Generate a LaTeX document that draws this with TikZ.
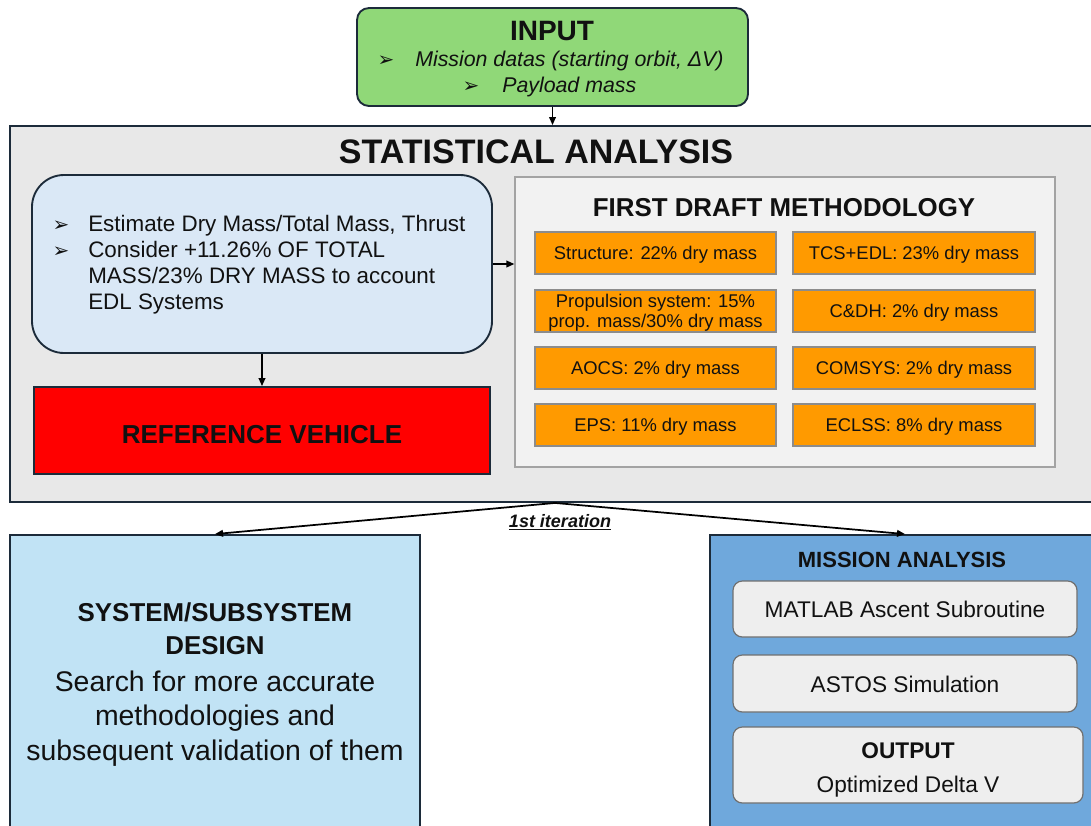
\documentclass[tikz,border=0pt]{standalone}
\usepackage{fontspec}
\setmainfont{Liberation Sans}
\newfontfamily\dvfont{DejaVu Sans}
\usetikzlibrary{arrows.meta,fit}
\definecolor{edgeC}{HTML}{1C2B3A}
\definecolor{greenC}{HTML}{90D878}
\definecolor{statC}{HTML}{E8E8E8}
\definecolor{lblueC}{HTML}{DAE8F6}
\definecolor{fdmC}{HTML}{F2F2F2}
\definecolor{fdmE}{HTML}{A3A3A3}
\definecolor{orangeC}{HTML}{FF9A00}
\definecolor{orangeE}{HTML}{8C8C8C}
\definecolor{misC}{HTML}{6FA8DC}
\definecolor{innerC}{HTML}{EEEEEE}
\definecolor{innerE}{HTML}{707070}
\definecolor{sysC}{HTML}{C1E3F5}
\definecolor{txtC}{HTML}{111111}
\newcommand{\fsz}[1]{\fontsize{#1}{#1}\selectfont}
\newcommand{\bul}{{\dvfont\bfseries ➢}}
\begin{document}
\begin{tikzpicture}[x=0.75pt,y=-0.75pt,
  box/.style={inner sep=0pt, draw=edgeC, line width=1.4pt},
  orng/.style={inner sep=0pt, draw=orangeE, fill=orangeC, line width=0.9pt},
  ibox/.style={inner sep=0pt, draw=innerE, fill=innerC, line width=0.9pt, rounded corners=7pt},
  lbl/.style={inner sep=0pt, anchor=base, text=txtC},
  arr/.style={draw=black, line width=1.3pt, -{Triangle[length=6pt,width=5pt]}},
]
\clip (0,0) rectangle (1091,825);
\fill[white] (0,0) rectangle (1091,825);

% INPUT
\node[box, fill=greenC, rounded corners=9pt, fit={(357,8)(748,106)}] (input) {};
\node[lbl, font=\bfseries\fsz{21}] (inT) at (552,40) {INPUT};
\node[lbl, font=\fsz{15}] (inB1) at (386,66) {\bul};
\node[lbl, anchor=base west, font=\itshape\fsz{16}] (in1) at (415,66) {Mission datas (starting orbit, ΔV)};
\node[lbl, font=\fsz{15}] (inB2) at (471,92) {\bul};
\node[lbl, anchor=base west, font=\itshape\fsz{16}] (in2) at (502,92) {Payload mass};

% STATISTICAL ANALYSIS
\node[box, fill=statC, fit={(10,126)(1100,502)}] (stat) {};
\node[lbl, font=\bfseries\fsz{25.5}] (statT) at (536,163) {STATISTICAL ANALYSIS};

% estimate box
\node[box, fill=lblueC, rounded corners=24pt, fit={(32,175)(492,353)}] (est) {};
\node[lbl, font=\fsz{15}] (eB1) at (61,231) {\bul};
\node[lbl, font=\fsz{15}] (eB2) at (61,257) {\bul};
\node[lbl, anchor=base west, font=\fsz{16.8}] (e1) at (88,231) {Estimate Dry Mass/Total Mass, Thrust};
\node[lbl, anchor=base west, font=\fsz{16.8}] (e2) at (88,257) {Consider +11.26\% OF TOTAL};
\node[lbl, anchor=base west, font=\fsz{16.8}] (e3) at (88,283) {MASS/23\% DRY MASS to account};
\node[lbl, anchor=base west, font=\fsz{16.8}] (e4) at (88,309) {EDL Systems};

% reference vehicle
\node[box, fill=red, fit={(34,387)(490,474)}] (ref) {};
\node[lbl, font=\bfseries\fsz{19.5}] (refT) at (262,443) {REFERENCE VEHICLE};

% first draft methodology
\node[inner sep=0pt, draw=fdmE, fill=fdmC, line width=0.9pt, fit={(515,177)(1055,467)}] (fdm) {};
\node[lbl, font=\bfseries\fsz{19.4}] (fdmT) at (784,216) {FIRST DRAFT METHODOLOGY};

\node[orng, fit={(535,232)(776,274)}] (o1) {};
\node[orng, fit={(793,232)(1035,274)}] (o2) {};
\node[orng, fit={(535,290)(776,332)}] (o3) {};
\node[orng, fit={(793,290)(1035,332)}] (o4) {};
\node[orng, fit={(535,347)(776,389)}] (o5) {};
\node[orng, fit={(793,347)(1035,389)}] (o6) {};
\node[orng, fit={(535,404)(776,446)}] (o7) {};
\node[orng, fit={(793,404)(1035,446)}] (o8) {};
\node[lbl, font=\fsz{13.8}] (t1) at (655.5,259.5) {Structure: 22\% dry mass};
\node[lbl, font=\fsz{13.8}] (t2) at (914,259.5) {TCS+EDL: 23\% dry mass};
\node[lbl, font=\fsz{13.8}] (t3a) at (655.5,307) {Propulsion system: 15\%};
\node[lbl, font=\fsz{13.8}] (t3b) at (655.5,327) {prop. mass/30\% dry mass};
\node[lbl, font=\fsz{13.8}] (t4) at (914,317.5) {C\&DH: 2\% dry mass};
\node[lbl, font=\fsz{13.8}] (t5) at (655.5,374.5) {AOCS: 2\% dry mass};
\node[lbl, font=\fsz{13.8}] (t6) at (914,374.5) {COMSYS: 2\% dry mass};
\node[lbl, font=\fsz{13.8}] (t7) at (655.5,431.5) {EPS: 11\% dry mass};
\node[lbl, font=\fsz{13.8}] (t8) at (914,431.5) {ECLSS: 8\% dry mass};

% system / subsystem design
\node[box, fill=sysC, fit={(10,535)(420,830)}] (sys) {};
\node[lbl, font=\bfseries\fsz{19.4}] (s1) at (215,621) {SYSTEM/SUBSYSTEM};
\node[lbl, font=\bfseries\fsz{19.4}] (s2) at (215,654) {DESIGN};
\node[lbl, font=\fsz{21.3}] (s3) at (215,691) {Search for more accurate};
\node[lbl, font=\fsz{21.3}] (s4) at (215,725) {methodologies and};
\node[lbl, font=\fsz{21.3}] (s5) at (215,760) {subsequent validation of them};

% mission analysis
\node[box, fill=misC, fit={(710,535)(1100,830)}] (mis) {};
\node[lbl, font=\bfseries\fsz{16.5}] (misT) at (902,567) {MISSION ANALYSIS};
\node[ibox, fit={(733,581)(1077,637)}] (m1) {};
\node[ibox, fit={(733,655)(1077,712)}] (m2) {};
\node[ibox, fit={(733,727)(1083,803)}] (m3) {};
\node[lbl, font=\fsz{17}] (m1T) at (905,617) {MATLAB Ascent Subroutine};
\node[lbl, font=\fsz{17}] (m2T) at (905,692) {ASTOS Simulation};
\node[lbl, font=\bfseries\fsz{17}] (m3T) at (908,758) {OUTPUT};
\node[lbl, font=\fsz{17}] (m3U) at (908,792) {Optimized Delta V};

% connectors
\draw[arr, line width=1.1pt] (input.south) -- (input.south |- stat.north);
\draw[arr] (est.south) -- (ref.north);
\draw[arr, line width=1.1pt] (est.east) -- (est.east -| fdm.west);
\draw[arr] (stat.south) -- (sys.north);
\draw[arr] (stat.south) -- (mis.north);
\node[lbl, font=\bfseries\itshape\fsz{13.5}] (iter) at (560,527) {\underline{1st iteration}};
\end{tikzpicture}
\end{document}
